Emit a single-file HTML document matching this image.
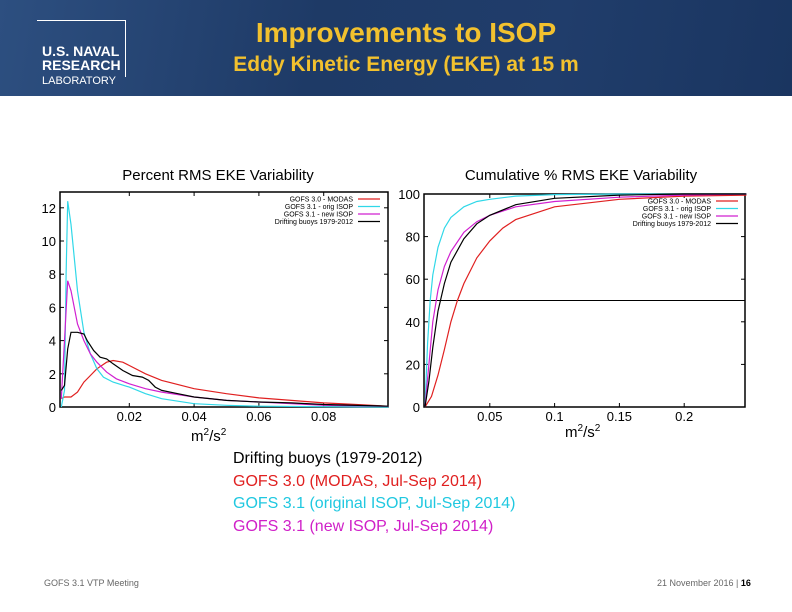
<!DOCTYPE html>
<html><head><meta charset="utf-8"><style>
body{margin:0;width:792px;height:612px;overflow:hidden;background:#fff;font-family:"Liberation Sans",sans-serif;position:relative}
.abs{position:absolute}
</style></head><body>
<div class="abs" style="left:0;top:0;width:792px;height:96px;background:linear-gradient(100deg,#2d4f80 0%,#1e3a66 40%,#203d6b 70%,#1a3560 100%)"></div>
<div class="abs" style="left:37px;top:20px;width:88px;height:56px;border:1px solid #fff;border-bottom:none;border-left:none;"></div>
<div class="abs" style="left:42px;top:44px;color:#fff;font-weight:bold;font-size:14px;line-height:14px">U.S. NAVAL<br>RESEARCH<br><span style="font-weight:normal;font-size:11px">LABORATORY</span></div>
<div class="abs" style="left:0;width:792px;top:17px;text-align:center;color:#f2c12e;font-size:28px;font-weight:bold;padding-left:20px;box-sizing:border-box">Improvements to ISOP</div>
<div class="abs" style="left:0;width:792px;top:53px;text-align:center;color:#f2c12e;font-size:21px;font-weight:bold;padding-left:20px;box-sizing:border-box">Eddy Kinetic Energy (EKE) at 15 m</div>
<svg class="abs" style="left:0;top:0" width="792" height="612" id="svg" font-family="Liberation Sans, sans-serif"></svg>
<div class="abs" style="left:233px;top:448px;font-size:16px;line-height:22.5px">
<div style="color:#000">Drifting buoys (1979-2012)</div>
<div style="color:#e02020">GOFS 3.0 (MODAS, Jul-Sep 2014)</div>
<div style="color:#20c8e0">GOFS 3.1 (original ISOP, Jul-Sep 2014)</div>
<div style="color:#d020c8">GOFS 3.1 (new ISOP, Jul-Sep 2014)</div></div>
<div class="abs" style="left:44px;top:578px;font-size:9px;color:#666">GOFS 3.1 VTP Meeting</div>
<div class="abs" style="left:657px;top:578px;font-size:9px;color:#666">21 November 2016 | <b style="color:#000">16</b></div>
<script>
const leftCyanX=[-0.001,0,0.0005,0.001,0.002,0.004,0.006,0.008,0.01,0.012,0.015,0.02,0.025,0.03,0.04,0.05,0.06,0.08,0.1];
const leftCyanY=[0,1,8,12.4,11,7,4.5,3.2,2.3,1.8,1.5,1.2,0.8,0.5,0.2,0.1,0.05,0.02,0];
const leftMagX=[-0.001,0,0.001,0.002,0.004,0.006,0.008,0.01,0.013,0.016,0.02,0.025,0.03,0.04,0.05,0.06,0.07,0.08,0.1];
const leftMagY=[0.5,4,7.6,7,5,4,3.2,2.7,2.1,1.7,1.4,1.1,0.9,0.6,0.4,0.3,0.2,0.1,0.05];
const leftBlkX=[-0.001,0,0.001,0.002,0.004,0.006,0.007,0.009,0.011,0.013,0.015,0.018,0.021,0.024,0.026,0.028,0.03,0.035,0.04,0.05,0.06,0.07,0.08,0.1];
const leftBlkY=[1,1.3,3.5,4.5,4.5,4.4,4,3.4,3,2.9,2.6,2.2,1.9,1.8,1.6,1.2,1,0.8,0.6,0.4,0.3,0.25,0.15,0.05];
const leftRedX=[-0.001,0,0.002,0.004,0.006,0.008,0.01,0.013,0.015,0.018,0.02,0.025,0.03,0.04,0.05,0.06,0.07,0.08,0.09,0.1];
const leftRedY=[0.5,0.6,0.6,0.9,1.5,1.9,2.3,2.7,2.8,2.7,2.5,2,1.6,1.1,0.8,0.55,0.4,0.25,0.15,0.05];
const rightCyanX=[0,0.002,0.004,0.006,0.01,0.015,0.02,0.03,0.04,0.05,0.07,0.1,0.15,0.248];
const rightCyanY=[0,30,50,62,75,84,89,94,96.5,97.5,99,99.7,100,100];
const rightMagX=[0,0.003,0.006,0.01,0.015,0.02,0.03,0.04,0.05,0.07,0.1,0.15,0.2,0.248];
const rightMagY=[0,20,40,55,66,73,82,87,90,94,96.5,98.5,99.5,100];
const rightBlkX=[0,0.003,0.006,0.01,0.015,0.02,0.03,0.04,0.05,0.07,0.1,0.15,0.2,0.248];
const rightBlkY=[0,12,28,45,58,68,79,86,90,95,98,99.5,100,100];
const rightRedX=[0,0.005,0.01,0.015,0.02,0.025,0.03,0.04,0.05,0.06,0.07,0.1,0.15,0.2,0.248];
const rightRedY=[0,5,15,27,40,50,58,70,78,84,88,94,97.5,99,99.5];
const leftXTicks=[0.02,0.04,0.06,0.08];
const leftYTicks=[0,2,4,6,8,10,12];
const rightXTicks=[0.05,0.1,0.15,0.2];
const rightYTicks=[0,20,40,60,80,100];
const legendLabels=["GOFS 3.0 - MODAS","GOFS 3.1 - orig ISOP","GOFS 3.1 - new ISOP","Drifting buoys 1979-2012"];
const colors=["#e02020","#30d8e8","#d020d0","#000"];
const NS="http://www.w3.org/2000/svg";
const svg=document.getElementById('svg');
function mk(t,a,p){const e=document.createElementNS(NS,t);for(const k in a)e.setAttribute(k,a[k]);(p||svg).appendChild(e);return e;}
function chart(o){
 const g=mk('g',{});
 
 
 const sx=v=>o.x0+v*o.kx, sy=v=>o.y0-v*o.ky;
 const t=mk('text',{x:o.tx,y:o.ty,'font-size':15,'text-anchor':'middle'},g);t.textContent=o.title;
 
 
 const f=mk('rect',{x:o.l,y:o.t,width:o.r-o.l,height:o.b-o.t,fill:'none',stroke:'#000','stroke-width':1.5},g);
 
 
 o.yt.forEach(v=>{const y=sy(v);
  const l=mk('text',{x:o.l-4,y:y+5,'font-size':13,'text-anchor':'end'},g);l.textContent=v;
  
  
  mk('line',{x1:o.l,x2:o.l+4,y1:y,y2:y,stroke:'#000'},g);mk('line',{x1:o.r-4,x2:o.r,y1:y,y2:y,stroke:'#000'},g);});
 o.xt.forEach(v=>{const x=sx(v);
  const l=mk('text',{x:x,y:o.b+14,'font-size':13,'text-anchor':'middle'},g);l.textContent=v;
  
  
  mk('line',{x1:x,x2:x,y1:o.b,y2:o.b-4,stroke:'#000'},g);mk('line',{x1:x,x2:x,y1:o.t,y2:o.t+4,stroke:'#000'},g);});
 const xl=mk('text',{x:o.xlx,y:o.xly,'font-size':15},g);xl.innerHTML='m<tspan dy="-6" font-size="10">2</tspan><tspan dy="6">/s</tspan><tspan dy="-6" font-size="10">2</tspan>';
 
 
 if(o.hline!==undefined){const h=mk('line',{x1:o.l,x2:o.r,y1:sy(o.hline),y2:sy(o.hline),stroke:'#000'},g);
  
  }
 o.series.forEach((s,i)=>{
  const p=mk('polyline',{fill:'none',stroke:colors[i],'stroke-width':1.2,points:s[0].map((x,j)=>sx(x).toFixed(1)+','+sy(s[1][j]).toFixed(1)).join(' ')},g);
  
  
 });
 legendLabels.forEach((lab,i)=>{const y=o.t+7+i*7.5;
  const l=mk('text',{x:o.legx,y:y+2.5,'font-size':7,'text-anchor':'end'},g);l.textContent=lab;
  
  
  mk('line',{x1:o.legx+5,x2:o.legx+27,y1:y,y2:y,stroke:colors[i],'stroke-width':1.2},g);});
}
chart({name:'percent-rms-chart',title:'Percent RMS EKE Variability',tx:218,ty:180,l:60,r:388,t:192,b:407,x0:64.5,kx:3240,y0:407,ky:16.6,
 xt:leftXTicks,yt:leftYTicks,xlx:191,xly:441,legx:353,
 series:[[leftRedX,leftRedY],[leftCyanX,leftCyanY],[leftMagX,leftMagY],[leftBlkX,leftBlkY]]});
chart({name:'cumulative-rms-chart',title:'Cumulative % RMS EKE Variability',tx:581,ty:180,l:424,r:745,t:194,b:407,x0:425,kx:1296,y0:407,ky:2.13,
 xt:rightXTicks,yt:rightYTicks,xlx:565,xly:437,legx:711,hline:50,
 series:[[rightRedX,rightRedY],[rightCyanX,rightCyanY],[rightMagX,rightMagY],[rightBlkX,rightBlkY]]});
</script>
</body></html>
